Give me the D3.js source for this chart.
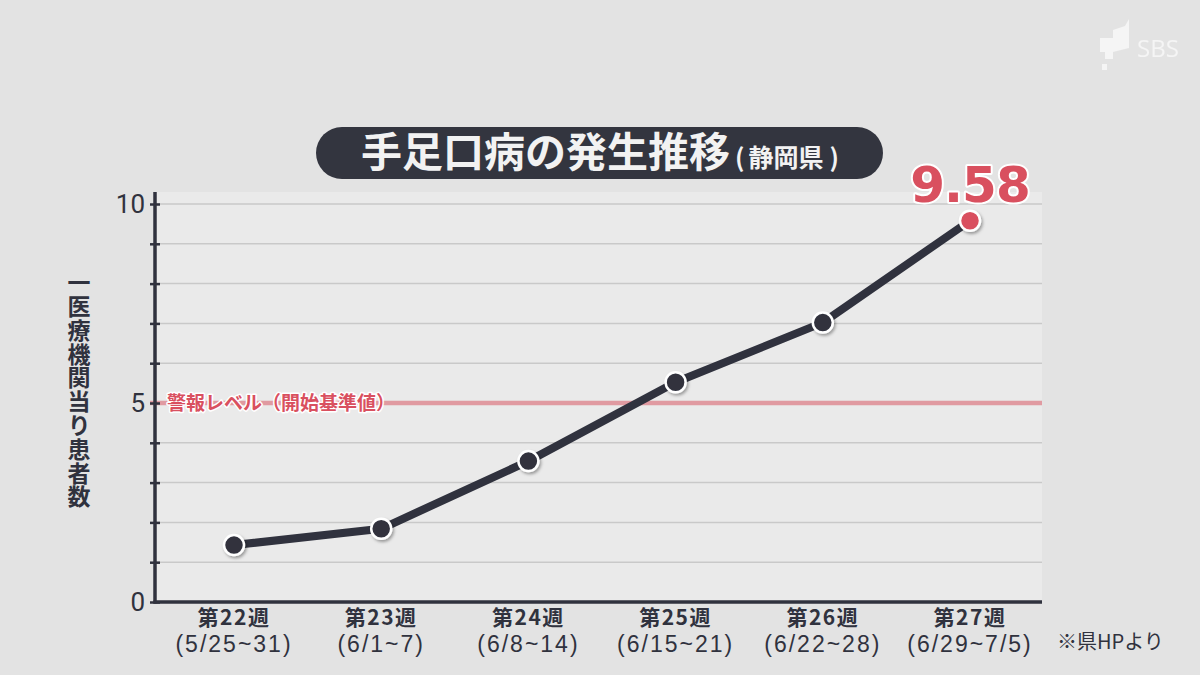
<!DOCTYPE html>
<html>
<head>
<meta charset="utf-8">
<script src="https://cdn.jsdelivr.net/npm/d3@7"></script>
<style>
  html, body { margin: 0; padding: 0; background: #e3e3e3; }
  svg { display: block; font-family: "Noto Sans CJK JP", "Noto Sans", sans-serif; }
</style>
</head>
<body>
<div id="chart"></div>
<script>
// data
const weeks = ["第22週", "第23週", "第24週", "第25週", "第26週", "第27週"];
const ranges = ["(5/25~31)", "(6/1~7)", "(6/8~14)", "(6/15~21)", "(6/22~28)", "(6/29~7/5)"];
const values = [1.43, 1.84, 3.54, 5.52, 7.02, 9.58];
const yTickLabels = [0, 5, 10];
const alertLevel = 5;

const width = 1200, height = 675;
const plot = { left: 155, right: 1042, top: 192, bottom: 602 };

const svg = d3.select('#chart').append('svg')
    .attr('width', width).attr('height', height);

const defs = svg.append('defs');
const shadow = defs.append('filter').attr('id', 'shadow')
    .attr('x', '-50%').attr('y', '-50%').attr('width', '200%').attr('height', '200%');
shadow.append('feDropShadow')
    .attr('dx', 1.5).attr('dy', 2).attr('stdDeviation', 1.5)
    .attr('flood-color', '#000').attr('flood-opacity', 0.35);

svg.append('rect').attr('width', width).attr('height', height).attr('fill', '#e3e3e3');

// plot panel
svg.append('rect')
    .attr('x', plot.left).attr('y', plot.top)
    .attr('width', plot.right - plot.left).attr('height', plot.bottom - plot.top)
    .attr('fill', '#eaeaea');

const x = d3.scalePoint().domain(weeks).range([234, 970]);
const y = d3.scaleLinear().domain([0, 10]).range([plot.bottom, 204]);

// grid lines every unit
svg.append('g').selectAll('line')
    .data(d3.range(1, 11))
    .enter().append('line')
    .attr('x1', plot.left).attr('x2', plot.right)
    .attr('y1', d => y(d)).attr('y2', d => y(d))
    .attr('stroke', '#c9c9c9').attr('stroke-width', 1.5);

// alert level line
svg.append('line')
    .attr('x1', plot.left - 5).attr('x2', plot.right)
    .attr('y1', y(alertLevel)).attr('y2', y(alertLevel))
    .attr('stroke', '#e09aa1').attr('stroke-width', 4.5);

svg.append('text')
    .attr('x', 167).attr('y', y(alertLevel))
    .attr('dy', '0.36em')
    .attr('font-size', 19).attr('font-weight', 700)
    .attr('fill', '#d9505f')
    .attr('stroke', '#ffffff').attr('stroke-width', 3).attr('paint-order', 'stroke')
    .attr('stroke-linejoin', 'round')
    .text('警報レベル（開始基準値）');

// y axis
const yAxis = svg.append('g')
    .attr('transform', `translate(${plot.left},0)`)
    .call(d3.axisLeft(y).ticks(10).tickSize(5).tickFormat(''));
yAxis.select('.domain').remove();
yAxis.selectAll('.tick line')
    .attr('x1', -5).attr('x2', 5)
    .attr('stroke', '#30323e').attr('stroke-width', 2.5);

svg.append('g').selectAll('text')
    .data(yTickLabels)
    .enter().append('text')
    .attr('x', 145).attr('y', d => y(d))
    .attr('dy', '0.36em')
    .attr('text-anchor', 'end')
    .attr('font-family', '"Liberation Sans Narrow", "Roboto", sans-serif')
    .attr('font-size', 26)
    .attr('fill', '#30323e')
    .text(d => d);

svg.append('line')
    .attr('x1', plot.left).attr('x2', plot.left)
    .attr('y1', plot.top).attr('y2', plot.bottom + 1.5)
    .attr('stroke', '#30323e').attr('stroke-width', 3.5);
svg.append('line')
    .attr('x1', plot.left - 1.5).attr('x2', plot.right)
    .attr('y1', plot.bottom).attr('y2', plot.bottom)
    .attr('stroke', '#30323e').attr('stroke-width', 3.5);

// y axis title, written vertically
svg.append('text')
    .attr('x', 79).attr('y', 271)
    .style('writing-mode', 'vertical-rl')
    .style('text-orientation', 'upright')
    .attr('font-size', 23).attr('font-weight', 700)
    .attr('letter-spacing', 0.8)
    .attr('fill', '#30323e')
    .text('一医療機関当り患者数');

// x labels
const xl = svg.append('g').selectAll('g')
    .data(weeks)
    .enter().append('g')
    .attr('transform', d => `translate(${x(d)},0)`);
xl.append('text')
    .attr('y', 617).attr('dy', '0.36em')
    .attr('text-anchor', 'middle')
    .attr('font-size', 21).attr('font-weight', 700)
    .attr('fill', '#30323e')
    .attr('letter-spacing', 1.5)
    .text(d => d);
xl.append('text')
    .attr('y', 644).attr('dy', '0.36em')
    .attr('text-anchor', 'middle')
    .attr('font-family', '"Liberation Sans", "Roboto", sans-serif')
    .attr('font-size', 23)
    .attr('fill', '#30323e')
    .attr('letter-spacing', 2)
    .text((d, i) => ranges[i]);

svg.append('text')
    .attr('x', 1057).attr('y', 642).attr('dy', '0.36em')
    .attr('font-size', 20)
    .attr('fill', '#30323e')
    .text('※県HPより');

// series line
const pts = weeks.map((w, i) => [w, values[i]]);
svg.append('path')
    .datum(pts)
    .attr('d', d3.line().x(d => x(d[0])).y(d => y(d[1])))
    .attr('fill', 'none')
    .attr('stroke', '#30323e').attr('stroke-width', 8)
    .attr('stroke-linejoin', 'round');

svg.append('g').selectAll('circle')
    .data(pts)
    .enter().append('circle')
    .attr('cx', d => x(d[0])).attr('cy', d => y(d[1]))
    .attr('r', 10)
    .attr('fill', (d, i) => i === pts.length - 1 ? '#d9505f' : '#30323e')
    .attr('stroke', '#ffffff').attr('stroke-width', 2.5)
    .attr('filter', 'url(#shadow)');

// last value label
const last = pts[pts.length - 1];
svg.append('text')
    .attr('x', x(last[0])).attr('y', 202)
    .attr('text-anchor', 'middle')
    .attr('font-family', '"DejaVu Sans", sans-serif')
    .attr('font-size', 50).attr('font-weight', 700)
    .attr('letter-spacing', -1)
    .attr('fill', '#d9505f')
    .attr('stroke', '#ffffff').attr('stroke-width', 4).attr('paint-order', 'stroke')
    .attr('stroke-linejoin', 'round')
    .text(d3.format('.2f')(last[1]));

// title pill
svg.append('rect')
    .attr('x', 316).attr('y', 127)
    .attr('width', 567).attr('height', 52)
    .attr('rx', 26)
    .attr('fill', '#33353f');
const title = svg.append('text')
    .attr('x', 600).attr('y', 167)
    .attr('text-anchor', 'middle')
    .attr('font-weight', 700)
    .attr('fill', '#f2f2f2');
title.append('tspan').attr('font-size', 41).text('手足口病の発生推移');
title.append('tspan').attr('font-size', 25).attr('dx', 5).text('(');
title.append('tspan').attr('font-size', 25).attr('dx', 4).text('静岡県');
title.append('tspan').attr('font-size', 25).attr('dx', 6).text(')');

// broadcaster mark
const logo = svg.append('g').attr('fill', '#f7f7f7').attr('opacity', 0.9);
logo.append('path')
    .attr('d', 'M1100,38 L1113,38 L1113,30 L1125,26 L1129,19 L1129,48 L1113,52 L1113,59 L1105,59 L1105,52 L1100,52 Z');
logo.append('rect').attr('x', 1102).attr('y', 64).attr('width', 5).attr('height', 6);
logo.append('text')
    .attr('x', 1137).attr('y', 57)
    .attr('font-family', '"Open Sans", sans-serif')
    .attr('font-size', 24)
    .text('SBS');
</script>
</body>
</html>
